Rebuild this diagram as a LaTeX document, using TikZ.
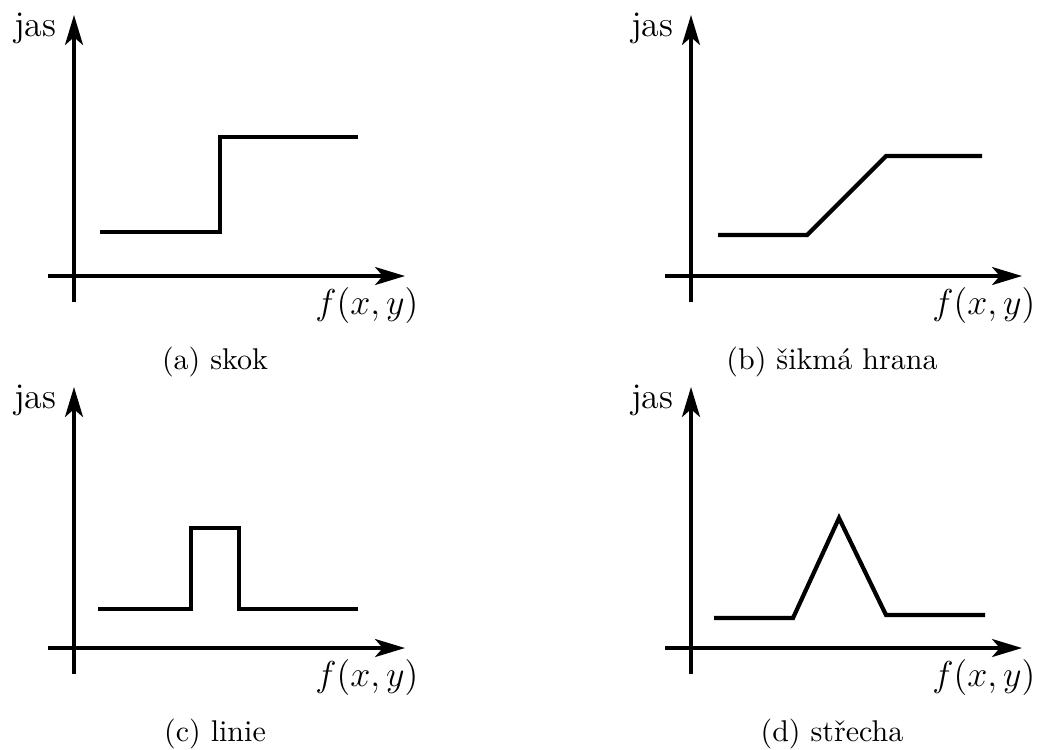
\documentclass[tikz,border=0pt]{standalone}
\usepackage{fontspec}
\usepackage{tikz}
\usetikzlibrary{arrows.meta}

\tikzset{
  osa/.style={line width=1.1pt, -{Stealth[length=10pt, width=6pt, inset=2.6pt]}},
  profil/.style={line width=1.4pt},
  popisek/.style={inner sep=0pt, font=\large},
  titulek/.style={inner sep=0pt, font=\normalsize}
}

\begin{document}
\begin{tikzpicture}[x=0.3333pt, y=-0.3333pt]

  \useasboundingbox (0,0) rectangle (1039,749);

  % osy a popisky ctyr grafu
  \foreach \dx/\dy/\pis/\txt in {0/0/a/skok, 617/0/b/šikmá hrana,
                                 0/372/c/linie, 617/372/d/střecha}{
    \begin{scope}[shift={(\dx,\dy)}]
      \coordinate (y0\pis) at (74,302);
      \coordinate (y1\pis) at (74,15);
      \coordinate (x0\pis) at (48,276);
      \coordinate (x1\pis) at (405,276);
      \draw[osa] (y0\pis) -- (y1\pis);
      \draw[osa] (x0\pis) -- (x1\pis);
      \node[popisek, anchor=base east] (jas\pis) at (57,36) {jas};
      \node[popisek, anchor=east] (fxy\pis) at (419,305) {$f(x,y)$};
      \node[titulek, anchor=base] (cap\pis) at (215,369) {(\pis) \txt};
    \end{scope}
  }

  % (a) skok
  \draw[profil] (100,232) -- (220,232) -- (220,137) -- (358,137);
  % (b) sikma hrana
  \draw[profil] (718,235) -- (807,235) -- (886,156) -- (982,156);
  % (c) linie
  \draw[profil] (98,609) -- (191,609) -- (191,528) -- (239,528)
                -- (239,609) -- (358,609);
  % (d) strecha
  \draw[profil] (714,618) -- (793,618) -- (839,518) -- (886,615)
                -- (985,615);

\end{tikzpicture}
\end{document}
